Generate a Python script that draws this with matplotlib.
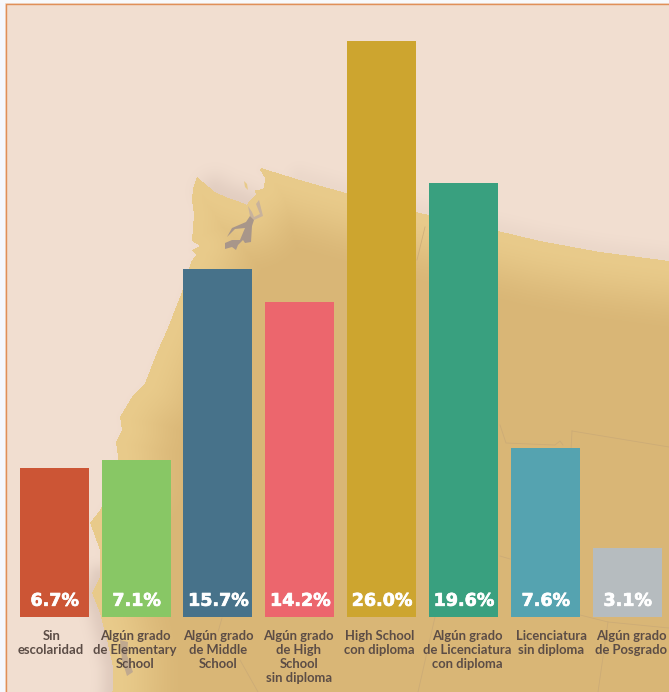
import matplotlib
matplotlib.use("Agg")
import numpy as np
import matplotlib.pyplot as plt
import matplotlib.patheffects as pe
from matplotlib.patches import Polygon, Rectangle
from matplotlib.path import Path
from matplotlib.colors import to_rgb

# ---- chart data ----
categories = [
    "Sin\nescolaridad",
    "Algún grado\nde Elementary\nSchool",
    "Algún grado\nde Middle\nSchool",
    "Algún grado\nde High\nSchool\nsin diploma",
    "High School\ncon diploma",
    "Algún grado\nde Licenciatura\ncon diploma",
    "Licenciatura\nsin diploma",
    "Algún grado\nde Posgrado",
]
values = [6.7, 7.1, 15.7, 14.2, 26.0, 19.6, 7.6, 3.1]
value_labels = ["6.7%", "7.1%", "15.7%", "14.2%", "26.0%", "19.6%", "7.6%", "3.1%"]
bar_colors = ["#cc5535", "#88c765", "#47728a", "#ec666d",
              "#cda52f", "#39a07f", "#55a3b0", "#b6bcbf"]
label_shift_px = [-3, -1, 0, -1, -2, 4, 6, 4]

# ---- decorative background map (pixel coordinates) ----
coast = [(112, 700), (113, 683), (113, 667), (107, 640), (100, 613), (92, 593),
         (100, 577), (100, 550), (90, 523), (100, 510), (118, 480), (118, 457),
         (116, 442), (122, 430), (120, 417), (132, 397), (145, 383), (158, 350),
         (167, 330), (180, 297), (186, 280), (191, 262), (196, 255), (192, 250),
         (200, 246), (192, 241), (193, 228), (194, 215), (192, 200), (193, 188),
         (197, 177), (215, 192), (228, 198), (240, 202), (247, 205), (250, 200),
         (256, 195), (255, 190), (259, 190), (264, 188), (265, 178), (260, 170),
         (261, 168), (300, 180), (360, 197), (416, 212), (498, 231), (540, 241),
         (600, 252), (669, 261), (700, 265)]
land = coast + [(700, 700)]
island = [(244, 181), (247, 184), (248, 190), (245, 187)]
sound_dark = [(246, 222), (250, 216), (254, 220), (252, 226), (251, 242), (245, 243),
              (243, 240), (238, 245), (236, 250), (232, 247), (225, 249), (225, 243),
              (232, 240), (240, 240), (245, 228), (235, 229), (228, 236), (227, 237),
              (232, 228)]
sound_light = [(248, 206), (250, 216), (254, 220), (263, 216), (259, 200), (256, 204),
               (260, 214), (254, 217), (252, 212)]
river = [(120, 640), (128, 642), (127, 655), (133, 672), (127, 676), (122, 660)]
borders = [
    [(572, 431), (669, 447)],
    [(572, 431), (570, 470)],
    [(500, 425), (506, 443), (530, 444), (555, 445), (560, 441), (563, 445)],
    [(580, 615), (608, 622), (669, 628)],
    [(608, 622), (598, 692)],
    [(435, 617), (418, 692)],
    [(425, 227), (417, 260)],
    [(222, 618), (218, 632)],
    [(240, 660), (258, 692)],
    [(252, 475), (183, 472)],
    [(500, 556), (510, 559)],
]

BG = "#f2dfd1"


def polyline_distance(pts, X, Y):
    best = np.full(X.shape, np.inf)
    for (x1, y1), (x2, y2) in zip(pts[:-1], pts[1:]):
        dx, dy = x2 - x1, y2 - y1
        t = np.clip(((X - x1) * dx + (Y - y1) * dy) / (dx * dx + dy * dy), 0, 1)
        best = np.minimum(best, np.hypot(X - x1 - t * dx, Y - y1 - t * dy))
    return best


W, H = 669, 692
X, Y = np.meshgrid(np.arange(W) + 0.5, np.arange(H) + 0.5)
inside = Path(land).contains_points(np.c_[X.ravel(), Y.ravel()]).reshape(X.shape)
d_all = polyline_distance(coast, X, Y)
d_strait = polyline_distance(coast[31:35], X, Y)
d_south = polyline_distance(coast[0:7], X, Y)
d_north = polyline_distance(coast[43:], X, Y)

shade = np.maximum.reduce([
    0.02 * np.exp(-d_all / 14),
    0.24 * np.exp(-(d_strait / 18) ** 2),
    0.28 * np.exp(-(d_south / 13) ** 2),
    0.10 * np.exp(-(d_north / 14) ** 2),
])
base = np.array(to_rgb(BG))
shadow_col = np.array(to_rgb("#b39a90"))
edge_col = np.array(to_rgb("#e9cb8b"))
inner_col = np.array(to_rgb("#d9b676"))
sea = base + shade[..., None] * (shadow_col - base)
tt = np.clip(d_all / 75, 0, 1)[..., None]
tt = tt * tt * (3 - 2 * tt)
earth = edge_col + tt * (inner_col - edge_col)
img = np.where(inside[..., None], earth, sea)

fig = plt.figure(figsize=(6.69, 6.92), dpi=100, facecolor=BG)

bg = fig.add_axes([0, 0, 1, 1])
bg.imshow(img, extent=(0, W, H, 0), aspect="auto", interpolation="bilinear", zorder=1)
bg.set_xlim(0, W)
bg.set_ylim(H, 0)
bg.axis("off")

# page edge and thin frame
bg.add_patch(Rectangle((0, 0), 5, 692, color="#f5f8fe", zorder=2.5, lw=0))
bg.add_patch(Rectangle((0, 0), 669, 3, color="#f8f9fb", zorder=2.5, lw=0))
bg.plot([5.5, 5.5, 669], [692, 3.5, 3.5], color="#e08f58", lw=1.0, zorder=5)

bg.add_patch(Polygon(island, facecolor="#e8ca8a", edgecolor="none", zorder=2.2))
bg.add_patch(Polygon(sound_light, facecolor="#c8b29c", edgecolor="none", zorder=2.3))
bg.add_patch(Polygon(sound_dark, facecolor="#a8968a", edgecolor="none", zorder=2.3))
bg.add_patch(Polygon(river, facecolor="#c0a98f", edgecolor="none", zorder=2.3))
for seg in borders:
    sx, sy = zip(*seg)
    bg.plot(sx, sy, color="#c9a977", lw=0.6, alpha=0.8, zorder=2.4)

# ---- bars ----
X0, DX, BASE, TOP = 54.2, 81.85, 616.8, 41.0
ax = fig.add_axes([0, (692 - BASE) / 692, 1, (BASE - TOP) / 692])
ax.patch.set_alpha(0)
ax.set_xlim(-X0 / DX, (669 - X0) / DX)
ax.set_ylim(0, 26.0)
ax.axis("off")

xs = list(range(len(values)))
ax.bar(xs, values, width=69 / DX, color=bar_colors, linewidth=0, zorder=3)

for x, lab, txt, shift in zip(xs, value_labels, categories, label_shift_px):
    t = ax.annotate(lab, (x, 0), xytext=(0.5, 11), textcoords="offset pixels",
                    ha="center", va="baseline", fontsize=12.6, fontweight="bold",
                    family="DejaVu Sans", color="white", zorder=4, annotation_clip=False)
    t.set_path_effects([pe.withStroke(linewidth=0.5, foreground="white")])
    ax.annotate(txt, (x, 0), xytext=(shift, -13), textcoords="offset pixels",
                ha="center", va="top", multialignment="center", fontsize=9.4,
                family="Lato", fontweight="bold", color="#5c4d46",
                linespacing=1.2, zorder=4, annotation_clip=False)

fig.savefig("out.png", dpi=100, facecolor=fig.get_facecolor())
